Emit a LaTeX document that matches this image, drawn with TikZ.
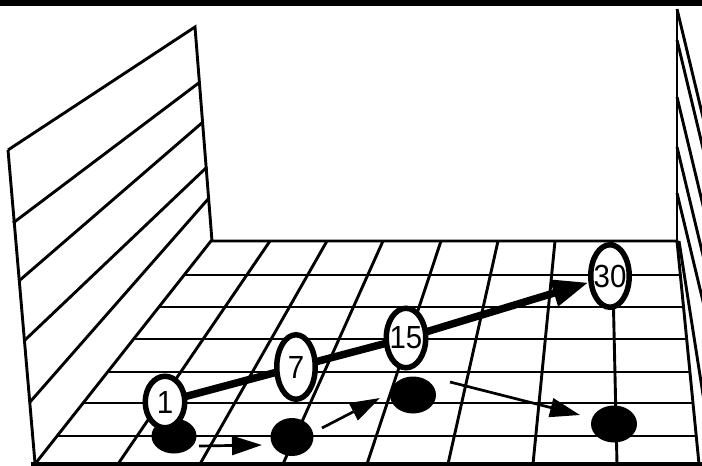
\documentclass[tikz,border=0pt]{standalone}
\usepackage{graphicx}
\usepackage{fontspec}
\setmainfont{Liberation Sans}
\usetikzlibrary{arrows.meta,shapes.geometric,calc}
\pgfdeclarelayer{gridlayer}
\pgfdeclarelayer{linklayer}
\pgfsetlayers{gridlayer,linklayer,main}
\newcommand\numtxt[1]{\makebox[0pt]{\scalebox{0.92}[1]{\fontsize{32}{32}\selectfont #1}}}
\begin{document}
\begin{tikzpicture}[x=1pt,y=-1pt,
  gridline/.style={line width=2.9pt},
  numell/.style={ellipse, draw, fill=white, line width=5.5pt, inner sep=0pt},
  blackdot/.style={ellipse, fill=black, inner sep=0pt},
  bigarrow/.style={line width=7.5pt, -{Triangle[length=36pt,width=26pt]}},
  smallarrow/.style={line width=2.7pt, -{Triangle[length=30pt,width=19pt]}}]
\useasboundingbox (0,0) rectangle (702,466);
\begin{pgfonlayer}{gridlayer}
\begin{scope}
\clip (0,0) rectangle (702,466);
% top bar
\fill (0,0) rectangle (702,6);
% left wall
\draw[gridline, line join=miter] (8,150) -- (195,27) -- (212,241);
\draw[gridline] (8,150) -- (35,463);
\foreach \la/\lb/\ra/\rb in {13/223/200/82, 20/280/203/122, 25/340/207/167, 30/402/209/198}
  \draw[gridline] (\la,\lb) -- (\ra,\rb);
% floor
\coordinate (TL) at (211,241);
\coordinate (BL) at (35,464);
\coordinate (TR) at (677,241);
\coordinate (BR) at (699,464);
\draw[gridline] (BL) -- (TL) -- (TR) -- (BR);
\foreach \yy in {275,307,339,372,403,436}
  \draw[gridline] ($(TL)!{(\yy-241)/223}!(BL)$) -- ($(TR)!{(\yy-241)/223}!(BR)$);
\foreach \t/\b in {270/118, 327/200, 383/283, 441/367, 498/448, 555/533, 612/617}
  \draw[gridline] (\t,241) -- (\b,464);
\draw[line width=3.6pt] (31,464) -- (702,464);
% right wall
\draw[gridline] (677,9) -- (677,241);
\foreach \s in {9,40,97,147,193}
  \draw[gridline] (677,\s) -- ++(30,125);
\draw[gridline] (679,241) -- ++(25,160);
\end{scope}
\end{pgfonlayer}
% dots
\node[blackdot, minimum width=45pt, minimum height=35pt] (d1) at (174,436) {};
\node[blackdot, minimum width=43pt, minimum height=38pt] (d2) at (292,437) {};
\node[blackdot, minimum width=46pt, minimum height=37pt] (d3) at (413,395) {};
\node[blackdot, minimum width=46pt, minimum height=37pt] (d4) at (614,424) {};
% numbered ellipses
\node[numell, minimum width=39.5pt, minimum height=51.5pt] (n1) at (165,402) {\numtxt{1}};
\node[numell, minimum width=38.5pt, minimum height=64.5pt] (n7) at (296,367) {\numtxt{7}};
\node[numell, minimum width=39.5pt, minimum height=59.5pt] (n15) at (406,338) {\numtxt{15}};
\node[numell, minimum width=38.5pt, minimum height=62.5pt] (n30) at (610,276) {\numtxt{30}};
% connectors
\begin{pgfonlayer}{linklayer}
\draw[bigarrow] (n1.center) -- (n7.center) -- (n15.center) -- (n30);
\draw[smallarrow] ($(d1.center)+(25,10)$) -- ($(d2.center)+(-30,8)$);
\draw[smallarrow] ($(d2.center)+(30,-9)$) -- ($(d3.center)+(-33,3)$);
\draw[smallarrow] ($(d3.center)+(37,-13)$) -- ($(d4.center)+(-34,-9)$);
\end{pgfonlayer}
\end{tikzpicture}
\end{document}
